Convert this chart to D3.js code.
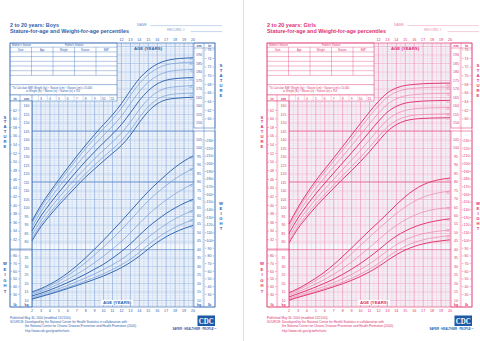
<!DOCTYPE html>
<html>
<head>
<meta charset="utf-8">
<script src="https://cdn.jsdelivr.net/npm/d3@7"></script>
<style>
  body { margin: 0; background: #fff; }
  svg { display: block; font-family: "Liberation Sans", Arial, sans-serif; }
</style>
</head>
<body>
<div id="chart"></div>
<script>
// ---------------------------------------------------------------
// Percentile data, ages 2..20 (one value per whole year)
// rows: 5th, 10th, 25th, 50th, 75th, 90th, 95th
// ---------------------------------------------------------------
const ages = [2, 3, 4, 5, 6, 7, 8, 9, 10, 11, 12, 13, 14, 15, 16, 17, 18, 19, 20];
const percentiles = ["5", "10", "25", "50", "75", "90", "95"];
const heavyPercentiles = ["5", "50", "95"];

const boysStature = [
  [80.7, 89.0, 95.6, 101.7, 107.3, 112.9, 118.2, 123.0, 127.7, 132.2, 136.8, 142.9, 150.3, 156.8, 161.3, 163.7, 164.5, 164.9, 165.2],
  [82.0, 90.4, 97.1, 103.3, 109.1, 114.8, 120.2, 125.3, 130.1, 134.7, 139.5, 145.8, 153.2, 159.5, 163.9, 166.2, 167.1, 167.4, 167.7],
  [84.1, 92.7, 99.7, 106.1, 112.2, 118.1, 123.7, 129.0, 134.0, 138.9, 144.1, 150.6, 157.9, 164.0, 168.2, 170.5, 171.3, 171.7, 172.0],
  [86.5, 95.3, 102.5, 109.2, 115.5, 121.7, 127.6, 133.1, 138.4, 143.5, 149.1, 156.0, 163.2, 169.0, 173.0, 175.2, 176.1, 176.5, 176.8],
  [88.9, 97.9, 105.3, 112.3, 118.8, 125.3, 131.5, 137.2, 142.8, 148.1, 154.1, 161.4, 168.5, 174.0, 177.8, 179.9, 180.9, 181.3, 181.6],
  [91.0, 100.2, 107.9, 115.1, 121.9, 128.6, 135.0, 140.9, 146.7, 152.3, 158.7, 166.2, 173.2, 178.5, 182.1, 184.2, 185.1, 185.6, 185.9],
  [92.3, 101.6, 109.4, 116.7, 123.7, 130.5, 137.0, 143.2, 149.1, 154.8, 161.4, 169.1, 176.1, 181.2, 184.7, 186.7, 187.7, 188.1, 188.4]
];

const boysWeight = [
  [10.8, 12.3, 13.8, 15.4, 17.1, 18.8, 20.6, 22.5, 24.5, 26.8, 29.4, 32.5, 36.2, 40.4, 44.3, 47.6, 50.3, 52.5, 54.3],
  [11.2, 12.7, 14.2, 15.9, 17.7, 19.6, 21.6, 23.6, 25.8, 28.3, 31.1, 34.4, 38.4, 42.8, 46.8, 50.3, 53.2, 55.6, 57.7],
  [11.8, 13.4, 15.1, 16.9, 18.9, 21.1, 23.3, 25.7, 28.3, 31.1, 34.3, 38.1, 42.7, 47.3, 51.4, 55.0, 58.2, 60.9, 63.2],
  [12.7, 14.3, 16.2, 18.3, 20.6, 23.0, 25.6, 28.5, 31.4, 35.0, 38.9, 43.4, 48.5, 53.4, 57.6, 61.4, 64.6, 67.4, 69.6],
  [13.6, 15.4, 17.4, 19.8, 22.5, 25.5, 28.7, 32.3, 36.2, 40.4, 44.9, 50.0, 55.5, 60.7, 65.2, 69.3, 72.9, 76.1, 78.8],
  [14.5, 16.3, 18.7, 21.4, 24.7, 28.4, 32.4, 36.9, 41.6, 46.6, 51.8, 57.4, 63.3, 68.8, 73.6, 77.9, 81.8, 85.1, 87.9],
  [15.1, 17.0, 19.6, 22.6, 26.3, 30.5, 35.2, 40.3, 45.6, 51.2, 56.8, 62.7, 68.6, 74.3, 79.4, 84.2, 88.6, 92.3, 95.3]
];

const girlsStature = [
  [79.4, 87.9, 94.6, 100.7, 106.3, 111.7, 117.0, 122.0, 127.4, 133.1, 139.3, 145.1, 149.0, 151.3, 152.3, 152.7, 152.9, 153.0, 153.1],
  [80.6, 89.3, 96.1, 102.4, 108.1, 113.6, 119.1, 124.4, 129.9, 135.7, 141.9, 147.6, 151.4, 153.6, 154.6, 155.0, 155.2, 155.3, 155.4],
  [82.7, 91.6, 98.7, 105.3, 111.2, 116.9, 122.7, 128.2, 134.0, 140.0, 146.2, 151.8, 155.4, 157.4, 158.3, 158.7, 158.9, 159.0, 159.1],
  [85.0, 94.1, 101.6, 108.4, 114.6, 120.6, 126.6, 132.5, 138.6, 144.8, 151.0, 156.4, 159.8, 161.7, 162.5, 162.9, 163.1, 163.2, 163.3],
  [87.3, 96.6, 104.5, 111.5, 118.0, 124.3, 130.5, 136.8, 143.2, 149.6, 155.8, 161.0, 164.2, 166.0, 166.7, 167.1, 167.3, 167.4, 167.5],
  [89.4, 98.9, 107.1, 114.4, 121.1, 127.6, 134.1, 140.6, 147.3, 153.9, 160.1, 165.2, 168.2, 169.8, 170.4, 170.8, 171.0, 171.1, 171.2],
  [90.6, 100.3, 108.6, 116.1, 122.9, 129.5, 136.2, 143.0, 149.8, 156.5, 162.7, 167.7, 170.6, 172.1, 172.7, 173.1, 173.3, 173.4, 173.5]
];

const girlsWeight = [
  [10.2, 11.8, 13.3, 14.8, 16.4, 18.1, 19.9, 21.9, 24.2, 26.9, 30.0, 33.6, 37.0, 39.8, 41.9, 43.4, 44.5, 45.2, 45.8],
  [10.6, 12.2, 13.8, 15.4, 17.1, 18.9, 20.9, 23.1, 25.6, 28.5, 31.8, 35.6, 39.1, 42.0, 44.2, 45.8, 46.9, 47.7, 48.3],
  [11.3, 13.0, 14.7, 16.5, 18.4, 20.5, 22.8, 25.4, 28.3, 31.6, 35.3, 39.3, 42.9, 45.8, 47.9, 49.4, 50.4, 51.1, 51.7],
  [12.1, 14.0, 15.9, 18.0, 20.2, 22.6, 25.4, 28.5, 31.9, 35.7, 39.8, 44.2, 48.0, 51.0, 53.4, 55.2, 56.5, 57.5, 58.2],
  [13.0, 15.1, 17.3, 19.8, 22.5, 25.5, 28.9, 32.7, 36.9, 41.3, 45.8, 50.3, 54.3, 57.6, 60.2, 62.2, 63.5, 64.3, 64.8],
  [13.9, 16.2, 18.8, 21.8, 25.1, 28.8, 33.0, 37.6, 42.5, 47.4, 52.2, 56.9, 61.3, 65.2, 68.5, 71.0, 72.7, 73.8, 74.6],
  [14.6, 17.0, 19.9, 23.2, 26.9, 31.2, 36.0, 41.0, 46.2, 51.3, 56.2, 61.3, 66.5, 71.3, 75.3, 78.3, 80.3, 81.5, 82.3]
];

// axis tick values for the side columns
const statureCmRight = [150, 155, 160, 165, 170, 175, 180, 185, 190];
const statureInRight = [60, 62, 64, 66, 68, 70, 72, 74, 76];
const statureCmLeft = [80, 85, 90, 95, 100, 105, 110, 115, 120, 125, 130, 135, 140, 145, 150, 155, 160];
const statureInLeft = [32, 34, 36, 38, 40, 42, 44, 46, 48, 50, 52, 54, 56, 58, 60, 62];
const weightKgRight = [10, 15, 20, 25, 30, 35, 40, 45, 50, 55, 60, 65, 70, 75, 80, 85, 90, 95, 100, 105];
const weightLbRight = [30, 40, 50, 60, 70, 80, 90, 100, 110, 120, 130, 140, 150, 160, 170, 180, 190, 200, 210, 220, 230];
const weightKgLeft = [10, 15, 20, 25, 30, 35];
const weightLbLeft = [30, 40, 50, 60, 70, 80];
const tableColumns = ["Date", "Age", "Weight", "Stature", "BMI*"];

const footerLines = [
  "Published May 30, 2000 (modified 11/21/00).",
  "SOURCE: Developed by the National Center for Health Statistics in collaboration with",
  "the National Center for Chronic Disease Prevention and Health Promotion (2000).",
  "http://www.cdc.gov/growthcharts"
];

const panels = [
  { ox: 0, title: "2 to 20 years: Boys", stature: boysStature, weight: boysWeight,
    ink: "#2c62ad", soft: "#6f98d0", grid: "#bcd0ec", gridMajor: "#8eafde", bold: "#5584c6" },
  { ox: 257, title: "2 to 20 years: Girls", stature: girlsStature, weight: girlsWeight,
    ink: "#e02f6c", soft: "#ec7fa5", grid: "#f6c2d4", gridMajor: "#ef97b7", bold: "#e65a8a" }
];

const W = 480, H = 341;
const svg = d3.select("#chart").append("svg")
  .attr("width", W)
  .attr("height", H)
  .attr("viewBox", `0 0 ${W} ${H}`);

svg.append("rect").attr("width", W).attr("height", H).attr("fill", "#fff");

// thin rule between the two sheets
svg.append("line")
  .attr("x1", 243.5).attr("x2", 243.5).attr("y1", 0).attr("y2", H)
  .attr("stroke", "#d9d9d9").attr("stroke-width", 0.8);

const cmPerIn = 2.54, kgPerLb = 0.45359;

function drawPanel(p) {
  const g = svg.append("g").attr("transform", `translate(${p.ox},0)`);

  const x = d3.scaleLinear().domain([2, 20]).range([32, 193]);
  const yS = d3.scaleLinear().domain([80, 190]).range([242, 55]);
  const yW = d3.scaleLinear().domain([10, 105]).range([300.5, 139.5]);

  const plot = { l: 32, r: 194, t: 43, b: 307 };

  // -------------------- headings --------------------
  g.append("text").attr("x", 10).attr("y", 26.5)
    .attr("font-size", 5.6).attr("font-weight", "bold").attr("fill", p.ink)
    .attr("textLength", 49).attr("lengthAdjust", "spacingAndGlyphs")
    .text(p.title);
  g.append("text").attr("x", 10).attr("y", 33)
    .attr("font-size", 5.4).attr("font-weight", "bold").attr("fill", p.ink)
    .attr("textLength", 119).attr("lengthAdjust", "spacingAndGlyphs")
    .text("Stature-for-age and Weight-for-age percentiles");

  g.append("text").attr("x", 137).attr("y", 25.6)
    .attr("font-size", 3.4).attr("fill", p.soft).text("NAME");
  g.append("line").attr("x1", 150.5).attr("x2", 222).attr("y1", 25.6).attr("y2", 25.6)
    .attr("stroke", p.soft).attr("stroke-width", 0.4);
  g.append("text").attr("x", 167).attr("y", 31.4)
    .attr("font-size", 3.4).attr("fill", p.soft).text("RECORD #");
  g.append("line").attr("x1", 190.5).attr("x2", 222).attr("y1", 31.6).attr("y2", 31.6)
    .attr("stroke", p.soft).attr("stroke-width", 0.4);

  // -------------------- grid --------------------
  const grid = g.append("g");
  grid.append("rect").attr("x", plot.l).attr("y", plot.t)
    .attr("width", plot.r - plot.l).attr("height", plot.b - plot.t).attr("fill", "#f4f8fd");

  const statLines = d3.range(79, 198).filter(v => yS(v) >= plot.t);
  grid.selectAll(".hs").data(statLines).join("line")
    .attr("x1", plot.l).attr("x2", plot.r)
    .attr("y1", d => yS(d)).attr("y2", d => yS(d))
    .attr("stroke", d => d % 5 === 0 ? p.gridMajor : p.grid)
    .attr("stroke-width", d => d % 5 === 0 ? 0.55 : 0.4);

  const wtLines = d3.range(7, 40);
  grid.selectAll(".hw").data(wtLines).join("line")
    .attr("x1", plot.l).attr("x2", plot.r)
    .attr("y1", d => yW(d)).attr("y2", d => yW(d))
    .attr("stroke", d => d % 5 === 0 ? p.gridMajor : p.grid)
    .attr("stroke-width", d => d % 5 === 0 ? 0.55 : 0.4);

  const halfYears = d3.range(2, 20.01, 0.5);
  grid.selectAll(".v").data(halfYears).join("line")
    .attr("x1", d => x(d)).attr("x2", d => x(d))
    .attr("y1", plot.t).attr("y2", plot.b)
    .attr("stroke", d => Number.isInteger(d) ? p.gridMajor : p.grid)
    .attr("stroke-width", d => Number.isInteger(d) ? 0.7 : 0.45);

  // heavier rules crossing the grid
  [131, yW(80), yW(40)].forEach(yy => {
    grid.append("line").attr("x1", plot.l).attr("x2", plot.r).attr("y1", yy).attr("y2", yy)
      .attr("stroke", p.bold).attr("stroke-width", 0.7);
  });

  // -------------------- record table --------------------
  const tb = { l: 10, r: 117, t: 43, b: 95 };
  g.append("rect").attr("x", tb.l).attr("y", tb.t).attr("width", tb.r - tb.l).attr("height", tb.b - tb.t)
    .attr("fill", "#fff").attr("stroke", p.ink).attr("stroke-width", 0.5);
  g.append("text").attr("x", 12).attr("y", 46.4).attr("font-size", 2.6).attr("fill", p.ink).text("Mother's Stature");
  g.append("text").attr("x", 65).attr("y", 46.4).attr("font-size", 2.6).attr("fill", p.ink).text("Father's Stature");
  const rowYs = d3.range(7).map(i => 47.2 + i * 4.7);
  g.selectAll(".row").data(rowYs).join("line")
    .attr("x1", tb.l).attr("x2", tb.r).attr("y1", d => d).attr("y2", d => d)
    .attr("stroke", p.ink).attr("stroke-width", 0.35);
  const colXs = [10, 31.5, 53, 74.5, 96, 117];
  colXs.slice(1, -1).forEach(cx => {
    g.append("line").attr("x1", cx).attr("x2", cx).attr("y1", 47.2).attr("y2", rowYs[rowYs.length - 1])
      .attr("stroke", p.ink).attr("stroke-width", 0.35);
  });
  g.selectAll(".colh").data(tableColumns).join("text")
    .attr("x", (d, i) => (colXs[i] + colXs[i + 1]) / 2).attr("y", 50.9)
    .attr("text-anchor", "middle").attr("font-size", 2.6).attr("fill", p.ink).text(d => d);
  g.append("line").attr("x1", tb.l).attr("x2", tb.r).attr("y1", 84.6).attr("y2", 84.6)
    .attr("stroke", p.ink).attr("stroke-width", 0.45);
  g.append("text").attr("x", 12).attr("y", 88.5).attr("font-size", 2.6).attr("fill", p.ink)
    .text("*To Calculate BMI: Weight (kg) ÷ Stature (cm) ÷ Stature (cm) x 10,000");
  g.append("text").attr("x", 26).attr("y", 92.3).attr("font-size", 2.6).attr("fill", p.ink)
    .text("or Weight (lb) ÷ Stature (in) ÷ Stature (in) x 703");

  // age strip under the table
  g.append("rect").attr("x", tb.l).attr("y", 95).attr("width", tb.r - tb.l).attr("height", 6)
    .attr("fill", "#fff").attr("stroke", p.ink).attr("stroke-width", 0.45);
  ages.filter(a => a >= 3 && a <= 11).forEach(a => {
    g.append("line").attr("x1", x(a) - 2.6).attr("x2", x(a) - 2.6).attr("y1", 95).attr("y2", 101)
      .attr("stroke", p.gridMajor).attr("stroke-width", 0.4);
  });
  g.selectAll(".stripAge").data(ages.filter(a => a >= 3 && a <= 11)).join("text")
    .attr("x", d => x(d)).attr("y", 99.6).attr("text-anchor", "middle")
    .attr("font-size", 3.4).attr("fill", p.ink).text(d => d);

  // -------------------- side columns --------------------
  const colStyle = sel => sel.attr("fill", "#fff").attr("stroke", p.ink).attr("stroke-width", 0.5);

  // left: stature (in | cm) and weight (lb | kg)
  colStyle(g.append("rect").attr("x", 10).attr("y", 101).attr("width", 22).attr("height", 148));
  colStyle(g.append("rect").attr("x", 10).attr("y", 250).attr("width", 22).attr("height", 57));
  g.append("line").attr("x1", 20).attr("x2", 20).attr("y1", 95).attr("y2", 307)
    .attr("stroke", p.ink).attr("stroke-width", 0.4);
  g.append("line").attr("x1", 32).attr("x2", 32).attr("y1", 95).attr("y2", 307)
    .attr("stroke", p.ink).attr("stroke-width", 0.5);

  // right: stature (cm | in) and weight (kg | lb)
  colStyle(g.append("rect").attr("x", 194).attr("y", 43).attr("width", 21).attr("height", 85));
  colStyle(g.append("rect").attr("x", 194).attr("y", 131).attr("width", 21).attr("height", 176));
  g.append("line").attr("x1", 204).attr("x2", 204).attr("y1", 43).attr("y2", 307)
    .attr("stroke", p.ink).attr("stroke-width", 0.4);
  g.append("line").attr("x1", 194).attr("x2", 215).attr("y1", 48).attr("y2", 48)
    .attr("stroke", p.ink).attr("stroke-width", 0.4);

  // minor ticks on the metric columns
  const minorTicks = (vals, yFn, x0, x1) => {
    g.selectAll(null).data(vals).join("line")
      .attr("x1", x0).attr("x2", x1).attr("y1", d => yFn(d)).attr("y2", d => yFn(d))
      .attr("stroke", p.gridMajor).attr("stroke-width", 0.35);
  };
  minorTicks(d3.range(79, 196).filter(v => yS(v) > 48 && yS(v) < 128), yS, 201.8, 204);
  minorTicks(d3.range(7, 106).filter(v => yW(v) > 131), yW, 201.8, 204);
  minorTicks(d3.range(77, 164).filter(v => yS(v) > 101 && yS(v) < 249), yS, 20, 21.6);
  minorTicks(d3.range(7, 36), yW, 20, 21.6);

  const tickLabel = (vals, yFn, cx, withDash) => {
    vals.forEach(v => {
      const yy = yFn(v);
      if (withDash) {
        g.append("line").attr("x1", cx - 4.6).attr("x2", cx - 3.1).attr("y1", yy).attr("y2", yy)
          .attr("stroke", p.ink).attr("stroke-width", 0.4);
        g.append("line").attr("x1", cx + 3.1).attr("x2", cx + 4.6).attr("y1", yy).attr("y2", yy)
          .attr("stroke", p.ink).attr("stroke-width", 0.4);
      }
      g.append("text").attr("x", cx).attr("y", yy + 1.25)
        .attr("text-anchor", "middle").attr("font-size", 3.5).attr("fill", p.ink).text(v);
    });
  };

  tickLabel(statureCmRight, yS, 199, false);
  tickLabel(statureInRight, v => yS(v * cmPerIn), 209.5, true);
  tickLabel(weightKgRight, yW, 199, false);
  tickLabel(weightLbRight, v => yW(v * kgPerLb), 209.5, true);
  tickLabel(statureCmLeft, yS, 26.5, false);
  tickLabel(statureInLeft, v => yS(v * cmPerIn), 15, true);
  tickLabel(weightKgLeft, yW, 26.5, false);
  tickLabel(weightLbLeft, v => yW(v * kgPerLb), 15, true);

  const unit = (t, xx, yy) => g.append("text").attr("x", xx).attr("y", yy)
    .attr("text-anchor", "middle").attr("font-size", 3.5).attr("font-weight", "bold")
    .attr("fill", p.ink).text(t);
  unit("cm", 199, 46.6); unit("in", 209.5, 46.6);
  unit("in", 15, 99.6); unit("cm", 26.5, 99.6);
  unit("lb", 15, 305.5); unit("kg", 26.5, 305.5);
  unit("kg", 199, 305.5); unit("lb", 209.5, 305.5);

  // vertical captions
  const stacked = (word, xx, y0, step) => {
    word.split("").forEach((ch, i) => {
      g.append("text").attr("x", xx).attr("y", y0 + i * step)
        .attr("text-anchor", "middle").attr("font-size", 4.2).attr("font-weight", "bold")
        .attr("fill", p.ink).text(ch);
    });
  };
  stacked("STATURE", 5, 118.5, 4.9);
  stacked("WEIGHT", 5, 265, 5.5);
  stacked("STATURE", 221, 67, 5);
  stacked("WEIGHT", 221, 205, 5);

  // -------------------- age labels --------------------
  g.selectAll(".topAge").data(ages.filter(a => a >= 12)).join("text")
    .attr("x", d => x(d)).attr("y", 40.6).attr("text-anchor", "middle")
    .attr("font-size", 3.7).attr("fill", p.ink).text(d => d);
  g.selectAll(".botAge").data(ages).join("text")
    .attr("x", d => x(d)).attr("y", 312.4).attr("text-anchor", "middle")
    .attr("font-size", 3.7).attr("fill", p.ink).text(d => d);

  g.append("text").attr("x", 148).attr("y", 49.6).attr("text-anchor", "middle")
    .attr("font-size", 4.3).attr("font-weight", "bold").attr("fill", p.ink).text("AGE (YEARS)");
  g.append("rect").attr("x", 101).attr("y", 300).attr("width", 32).attr("height", 5).attr("fill", "#fff");
  g.append("text").attr("x", 117).attr("y", 304.2).attr("text-anchor", "middle")
    .attr("font-size", 4.3).attr("font-weight", "bold").attr("fill", p.ink).text("AGE (YEARS)");

  // frame
  g.append("rect").attr("x", 10).attr("y", 43).attr("width", 205).attr("height", 264)
    .attr("fill", "none").attr("stroke", p.ink).attr("stroke-width", 0.6);

  // -------------------- percentile curves --------------------
  const curves = g.append("g");
  const drawSet = (rows, yScale) => {
    const line = d3.line()
      .x((d, i) => x(ages[i]))
      .y(d => yScale(d))
      .curve(d3.curveMonotoneX);
    const order = d3.range(rows.length)
      .sort((a, b) => heavyPercentiles.includes(percentiles[a]) - heavyPercentiles.includes(percentiles[b]));
    order.forEach(i => {
      const heavy = heavyPercentiles.includes(percentiles[i]);
      curves.append("path")
        .attr("d", line(rows[i]))
        .attr("fill", "none")
        .attr("stroke", heavy ? p.ink : p.soft)
        .attr("stroke-width", heavy ? 0.95 : 0.65);
    });
    rows.forEach((row, i) => {
      curves.append("text")
        .attr("x", x(19.75)).attr("y", yScale(row[row.length - 1]) + 2.6)
        .attr("text-anchor", "middle").attr("font-size", 2.8).attr("font-style", "italic")
        .attr("fill", p.soft).text(percentiles[i]);
    });
  };
  drawSet(p.stature, yS);
  drawSet(p.weight, yW);

  // -------------------- footer --------------------
  const fx = [10, 10, 25, 25];
  footerLines.forEach((t, i) => {
    g.append("text").attr("x", fx[i]).attr("y", 318.5 + i * 4.4)
      .attr("font-size", 3.1).attr("fill", p.ink).text(t);
  });

  const logo = g.append("g");
  logo.append("rect").attr("x", 197.5).attr("y", 315.5).attr("width", 17.5).attr("height", 10.5)
    .attr("fill", "#1d5aa6");
  logo.append("text").attr("x", 206.2).attr("y", 324.2).attr("text-anchor", "middle")
    .attr("font-family", "'Liberation Serif', 'DejaVu Serif', serif")
    .attr("font-size", 8.6).attr("font-weight", "bold").attr("fill", "#fff")
    .attr("textLength", 15).attr("lengthAdjust", "spacingAndGlyphs").text("CDC");
  logo.append("text").attr("x", 194.5).attr("y", 329.8).attr("text-anchor", "middle")
    .attr("font-size", 2.6).attr("font-weight", "bold").attr("fill", "#1d5aa6")
    .attr("textLength", 44).attr("lengthAdjust", "spacingAndGlyphs")
    .text("SAFER · HEALTHIER · PEOPLE™");
}

panels.forEach(drawPanel);
</script>
</body>
</html>
